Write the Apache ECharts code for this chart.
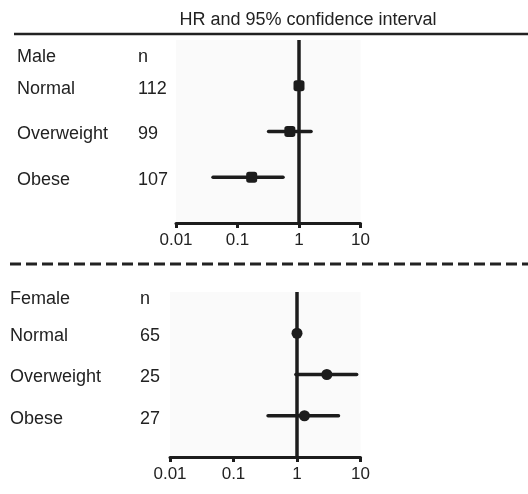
<!DOCTYPE html>
<html>
<head>
<meta charset="utf-8">
<script src="https://cdn.jsdelivr.net/npm/echarts@6/dist/echarts.min.js"></script>
<style>
html,body{margin:0;padding:0;background:#fff;}
#c{width:528px;height:494px;}
</style>
</head>
<body>
<div id="c"></div>
<script>
const titleText = 'HR and 95% confidence interval';
const groupNames = ['Male', 'Female'];
const nHeader = 'n';
const categories = ['Normal', 'Overweight', 'Obese'];
const maleN = [112, 99, 107];
const maleHR = [1, 0.71, 0.17];
const maleLower = [null, 0.32, 0.04];
const maleUpper = [null, 1.57, 0.55];
const femaleN = [65, 25, 27];
const femaleHR = [1, 2.95, 1.31];
const femaleLower = [null, 0.96, 0.35];
const femaleUpper = [null, 8.7, 4.5];
const xTickLabels = ['0.01', '0.1', '1', '10'];
const xMin = 0.01, xMax = 10;

const FONT = '"Liberation Sans", Arial, Helvetica, sans-serif';
const INK = '#1c1c1c';
const TXT = '#222';

const chart = echarts.init(document.getElementById('c'), null, {renderer: 'canvas'});

function xAxisCfg(gi) {
  return {
    type: 'log', logBase: 10, gridIndex: gi, min: xMin, max: xMax, interval: 1,
    position: 'bottom',
    axisLine: {show: true, onZero: false, lineStyle: {color: INK, width: 3}},
    axisTick: {show: true, length: 5, lineStyle: {color: INK, width: 3}},
    axisLabel: {
      color: TXT, fontSize: 17, fontFamily: FONT, margin: 9,
      formatter: function (v) {
        const idx = Math.round(Math.log10(v) - Math.log10(xMin));
        return xTickLabels[idx] !== undefined ? xTickLabels[idx] : '';
      }
    },
    splitLine: {show: false}
  };
}
function yAxisCfg(gi) {
  return {type: 'value', gridIndex: gi, min: 0, max: 4, inverse: true, show: false};
}

function ciSeries(gi, lower, upper) {
  const data = [];
  lower.forEach(function (lo, i) {
    if (lo != null) data.push([lo, upper[i], i + 1]);
  });
  return {
    type: 'custom', xAxisIndex: gi, yAxisIndex: gi, silent: true, z: 3,
    data: data,
    encode: {x: [0, 1], y: 2},
    renderItem: function (params, api) {
      const p1 = api.coord([api.value(0), api.value(2)]);
      const p2 = api.coord([api.value(1), api.value(2)]);
      return {
        type: 'line',
        shape: {x1: p1[0], y1: p1[1], x2: p2[0], y2: p2[1]},
        style: {stroke: INK, lineWidth: 3.5, lineCap: 'round'}
      };
    }
  };
}
function pointSeries(gi, hr, symbol) {
  return {
    type: 'scatter', xAxisIndex: gi, yAxisIndex: gi, silent: true, z: 5,
    symbol: symbol, symbolSize: 11,
    itemStyle: {color: INK, opacity: 1},
    data: hr.map(function (v, i) { return [v, i + 1]; })
  };
}
function refLine(gi) {
  return {
    type: 'line', xAxisIndex: gi, yAxisIndex: gi, silent: true, z: 4,
    symbol: 'none', lineStyle: {color: INK, width: 3.5},
    data: [[1, 0], [1, 4]]
  };
}

chart.setOption({
  animation: false,
  backgroundColor: '#ffffff',
  grid: [
    {left: 176, right: 167.5, top: 40, height: 183, show: true, backgroundColor: '#fafafa', borderWidth: 0},
    {left: 170, right: 167.5, top: 292, height: 165, show: true, backgroundColor: '#fafafa', borderWidth: 0}
  ],
  xAxis: [xAxisCfg(0), xAxisCfg(1)],
  yAxis: [yAxisCfg(0), yAxisCfg(1)],
  series: [
    refLine(0), ciSeries(0, maleLower, maleUpper), pointSeries(0, maleHR, 'roundRect'),
    refLine(1), ciSeries(1, femaleLower, femaleUpper), pointSeries(1, femaleHR, 'circle')
  ]
});

// text columns positioned through the chart's own y scales
const g = [];
const tStyle = function (text, x, y) {
  return {type: 'text', x: x, y: y, silent: true,
    style: {text: text, fill: TXT, font: '18px ' + FONT, textAlign: 'left', textVerticalAlign: 'middle'}};
};
g.push({type: 'text', x: 308, y: 20, silent: true,
  style: {text: titleText, fill: TXT, font: '18px ' + FONT, textAlign: 'center', textVerticalAlign: 'middle'}});
g.push({type: 'line', silent: true, shape: {x1: 14, y1: 34, x2: 528, y2: 34}, style: {stroke: '#222', lineWidth: 2.5}});
g.push({type: 'line', silent: true, shape: {x1: 10, y1: 264, x2: 528, y2: 264}, style: {stroke: '#222', lineWidth: 3, lineDash: [11, 5]}});

const panels = [
  {gi: 0, name: groupNames[0], n: maleN, catX: 17, nX: 138, headY: 57},
  {gi: 1, name: groupNames[1], n: femaleN, catX: 10, nX: 140, headY: 299}
];
panels.forEach(function (p) {
  g.push(tStyle(p.name, p.catX, p.headY));
  g.push(tStyle(nHeader, p.nX, p.headY));
  categories.forEach(function (c, i) {
    const y = chart.convertToPixel({yAxisIndex: p.gi}, i + 1) + 3;
    g.push(tStyle(c, p.catX, y));
    g.push(tStyle(String(p.n[i]), p.nX, y));
  });
});
chart.setOption({graphic: g});
</script>
</body>
</html>
